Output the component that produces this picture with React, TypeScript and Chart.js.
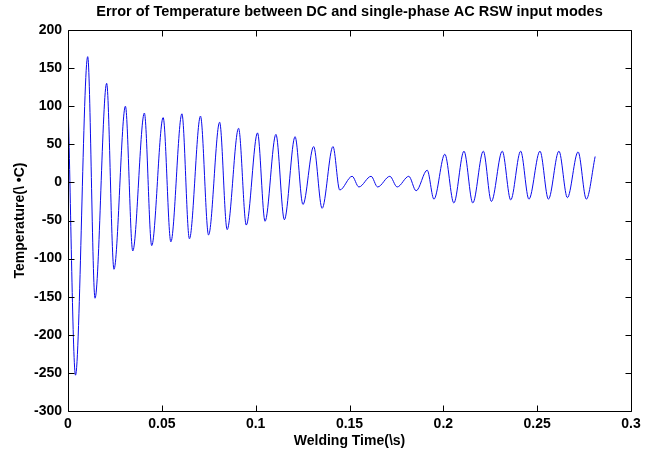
import React, { useEffect, useRef } from "react";
import { Chart, registerables } from "chart.js";

Chart.register(...registerables);

const chartTitle = "Error of Temperature between DC and single-phase AC RSW input modes";
const xAxisTitle = "Welding Time(\\s)";
const yAxisTitle = "Temperature(\\ \u2022C)";

// Extremum points of the temperature error curve (time in s, temperature in °C)
const timeS = [
  0, 0.004, 0.0105, 0.0144, 0.0206, 0.0245, 0.0306, 0.0345, 0.0407, 0.0446,
  0.0507, 0.0548, 0.0607, 0.0647, 0.0706, 0.0749, 0.0808, 0.0848, 0.0909, 0.095,
  0.101, 0.105, 0.1108, 0.1153, 0.121, 0.1252, 0.1309, 0.1354, 0.1412, 0.1448,
  0.1514, 0.155, 0.1615, 0.165, 0.1715, 0.1754, 0.1816, 0.1855, 0.1914, 0.195,
  0.2008, 0.2056, 0.211, 0.2157, 0.2213, 0.2256, 0.2314, 0.2359, 0.2412, 0.2456,
  0.2515, 0.256, 0.2616, 0.2661, 0.2718, 0.2762, 0.2809,
];
const tempError = [
  110, -253, 165, -152, 130, -114, 100, -90, 91, -83,
  85, -78, 90, -74, 87, -69, 79, -62, 71, -56,
  65, -51, 63, -49, 60, -29, 47, -34, 47, -10,
  8, -6, 8, -6, 8, -6, 8, -11, 16, -22,
  37, -27, 41, -27, 41, -25, 41, -23, 41, -22,
  41, -22, 41, -20, 40, -22, 34,
];

const xTicks = [0, 0.05, 0.1, 0.15, 0.2, 0.25, 0.3];
const xTickLabels = ["0", "0.05", "0.1", "0.15", "0.2", "0.25", "0.3"];
const yTicks = [-300, -250, -200, -150, -100, -50, 0, 50, 100, 150, 200];
const yTickLabels = ["-300", "-250", "-200", "-150", "-100", "-50", "0", "50", "100", "150", "200"];

const FONT_FAMILY = '"Liberation Sans", Arial, Helvetica, sans-serif';

const boxPlugin = {
  id: "matlabBox",
  afterDraw(chart: any) {
    const { ctx, chartArea } = chart;
    const { left, right, top, bottom } = chartArea;
    const xs = chart.scales.x;
    const ys = chart.scales.y;
    const L = Math.round(left) + 0.5;
    const R = Math.round(right) + 0.5;
    const T = Math.round(top) + 0.5;
    const B = Math.round(bottom) + 0.5;
    const tl = 6;
    ctx.save();
    ctx.strokeStyle = "#000";
    ctx.lineWidth = 1;
    ctx.beginPath();
    ctx.rect(L, T, R - L, B - T);
    xTicks.forEach((v) => {
      const px = Math.round(xs.getPixelForValue(v)) + 0.5;
      ctx.moveTo(px, B);
      ctx.lineTo(px, B - tl);
      ctx.moveTo(px, T);
      ctx.lineTo(px, T + tl);
    });
    yTicks.forEach((v) => {
      const py = Math.round(ys.getPixelForValue(v)) + 0.5;
      ctx.moveTo(L, py);
      ctx.lineTo(L + tl, py);
      ctx.moveTo(R, py);
      ctx.lineTo(R - tl, py);
    });
    ctx.stroke();
    ctx.restore();
  },
};

export default function App() {
  const canvasRef = useRef<HTMLCanvasElement | null>(null);

  useEffect(() => {
    document.body.style.margin = "0";
    const canvas = canvasRef.current;
    if (!canvas) return;
    const points = timeS.map((t, i) => ({ x: t, y: tempError[i] }));
    const tickFont = { family: FONT_FAMILY, size: 14, weight: "bold" as const };
    const chart = new Chart(canvas, {
      type: "line",
      data: {
        datasets: [
          {
            data: points,
            borderColor: "rgb(10,10,235)",
            borderWidth: 1,
            pointRadius: 0,
            fill: false,
            cubicInterpolationMode: "monotone",
          },
        ],
      },
      options: {
        animation: false,
        responsive: false,
        devicePixelRatio: 1,
        layout: { padding: { left: 0, right: 26, top: 0, bottom: 0 } },
        plugins: {
          legend: { display: false },
          tooltip: { enabled: false },
          title: {
            display: true,
            fullSize: false,
            text: chartTitle,
            color: "#000",
            font: { family: FONT_FAMILY, size: 14.5, weight: "bold" },
            padding: { top: 3, bottom: 9.6 },
          },
        },
        scales: {
          x: {
            type: "linear",
            min: 0,
            max: 0.3,
            afterBuildTicks: (scale: any) => {
              scale.ticks = xTicks.map((v) => ({ value: v }));
            },
            afterFit: (scale: any) => {
              scale.height = 45;
            },
            grid: { display: false, drawTicks: false },
            border: { display: false },
            ticks: {
              color: "#000",
              font: tickFont,
              padding: 5,
              maxRotation: 0,
              autoSkip: false,
              callback: (value: any) => {
                const i = xTicks.indexOf(value);
                return i >= 0 ? xTickLabels[i] : "";
              },
            },
            title: {
              display: true,
              text: xAxisTitle,
              color: "#000",
              font: { family: FONT_FAMILY, size: 14, weight: "bold" },
              padding: { top: 0, bottom: 6 },
            },
          },
          y: {
            type: "linear",
            min: -300,
            max: 200,
            afterBuildTicks: (scale: any) => {
              scale.ticks = yTicks.map((v) => ({ value: v }));
            },
            afterFit: (scale: any) => {
              scale.width = 68;
            },
            grid: { display: false, drawTicks: false },
            border: { display: false },
            ticks: {
              color: "#000",
              font: tickFont,
              padding: 6,
              autoSkip: false,
              callback: (value: any) => {
                const i = yTicks.indexOf(value);
                return i >= 0 ? yTickLabels[i] : "";
              },
            },
            title: {
              display: true,
              text: yAxisTitle,
              color: "#000",
              font: { family: FONT_FAMILY, size: 14, weight: "bold" },
              padding: { top: 12, bottom: 0 },
            },
          },
        },
      },
      plugins: [boxPlugin],
    });
    return () => chart.destroy();
  }, []);

  return (
    <div style={{ width: 657, height: 456, position: "relative", background: "#fff" }}>
      <canvas ref={canvasRef} width={657} height={456} style={{ display: "block" }} />
    </div>
  );
}
